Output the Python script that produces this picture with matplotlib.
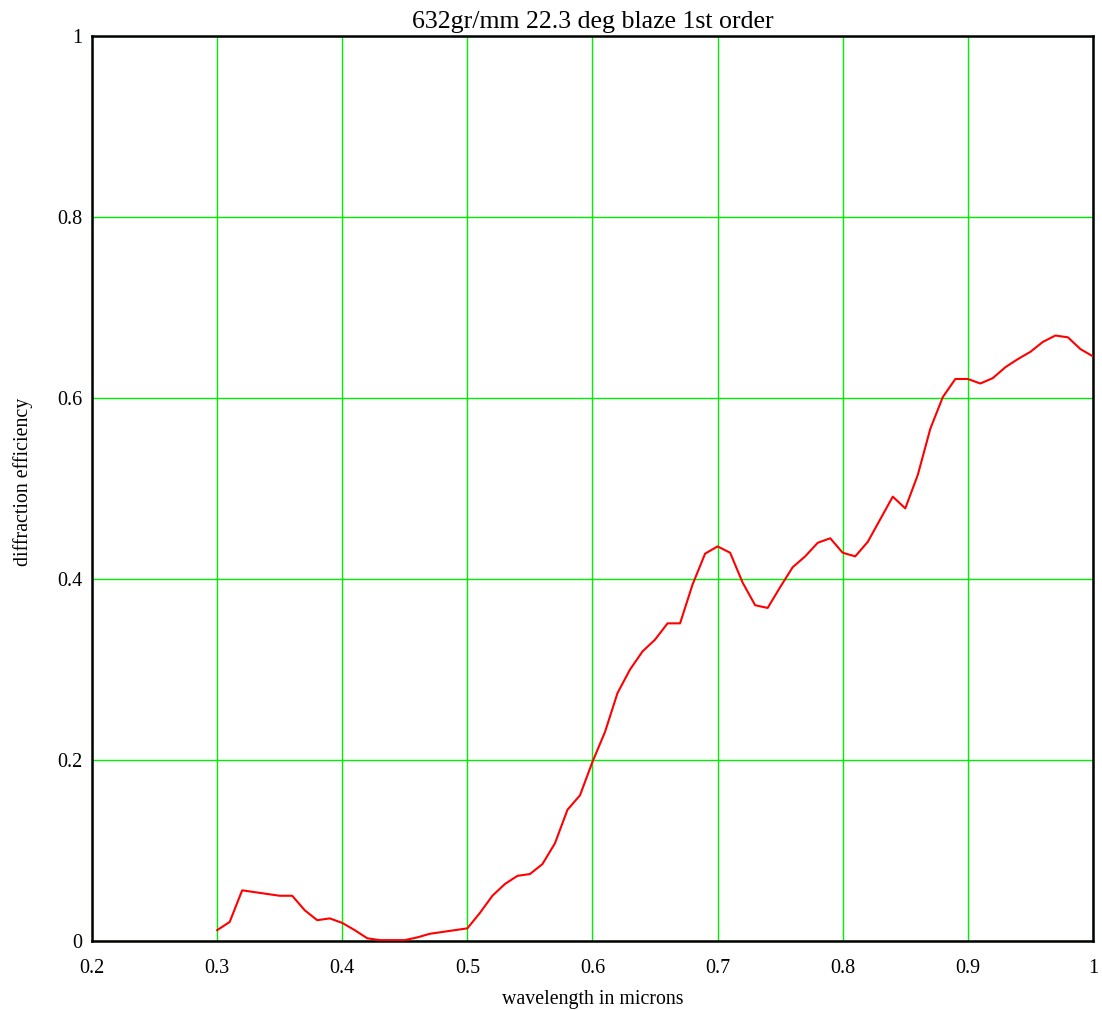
import matplotlib
matplotlib.use("Agg")
import matplotlib.pyplot as plt

# Measured first-order diffraction efficiency, 632 gr/mm grating
wavelength = [0.30, 0.31, 0.32, 0.33, 0.34, 0.35, 0.36, 0.37, 0.38, 0.39,
              0.40, 0.41, 0.42, 0.43, 0.44, 0.45, 0.46, 0.47, 0.48, 0.49,
              0.50, 0.51, 0.52, 0.53, 0.54, 0.55, 0.56, 0.57, 0.58, 0.59,
              0.60, 0.61, 0.62, 0.63, 0.64, 0.65, 0.66, 0.67, 0.68, 0.69,
              0.70, 0.71, 0.72, 0.73, 0.74, 0.75, 0.76, 0.77, 0.78, 0.79,
              0.80, 0.81, 0.82, 0.83, 0.84, 0.85, 0.86, 0.87, 0.88, 0.89,
              0.90, 0.91, 0.92, 0.93, 0.94, 0.95, 0.96, 0.97, 0.98, 0.99,
              1.00]
efficiency = [0.012, 0.021, 0.056, 0.054, 0.052, 0.050, 0.050, 0.034, 0.023, 0.025,
              0.020, 0.012, 0.003, 0.001, 0.001, 0.001, 0.004, 0.008, 0.010, 0.012,
              0.014, 0.031, 0.050, 0.063, 0.072, 0.074, 0.085, 0.108, 0.145, 0.161,
              0.198, 0.231, 0.274, 0.300, 0.320, 0.333, 0.351, 0.351, 0.394, 0.428,
              0.436, 0.429, 0.396, 0.371, 0.368, 0.391, 0.413, 0.425, 0.440, 0.445,
              0.429, 0.425, 0.441, 0.466, 0.491, 0.478, 0.515, 0.566, 0.601, 0.621,
              0.621, 0.616, 0.622, 0.634, 0.643, 0.651, 0.662, 0.669, 0.667, 0.654,
              0.646]

x_ticks = [0.2, 0.3, 0.4, 0.5, 0.6, 0.7, 0.8, 0.9, 1.0]
x_labels = ["0.2", "0.3", "0.4", "0.5", "0.6", "0.7", "0.8", "0.9", "1"]
y_ticks = [0.0, 0.2, 0.4, 0.6, 0.8, 1.0]
y_labels = ["0", "0.2", "0.4", "0.6", "0.8", "1"]

plt.rcParams["font.family"] = ["Liberation Serif", "DejaVu Serif"]

fig = plt.figure(figsize=(11.02, 10.10), dpi=100)
ax = fig.add_axes([0.0835, 0.0683, 0.9083, 0.8961])

ax.plot(wavelength, efficiency, color="#ff0000", linewidth=1.5, zorder=3)

ax.set_xlim(0.2, 1.0)
ax.set_ylim(0.0, 1.0)
ax.set_xticks(x_ticks)
ax.set_xticklabels(x_labels)
ax.set_yticks(y_ticks)
ax.set_yticklabels(y_labels)
ax.tick_params(length=0, labelsize=14.5)
ax.tick_params(axis="x", pad=13)
ax.tick_params(axis="y", pad=7)

ax.grid(True, color="#00ee00", linewidth=1.0, zorder=1)
ax.set_axisbelow(True)
for side in ax.spines.values():
    side.set_linewidth(1.8)
    side.set_color("black")

ax.set_title("632gr/mm 22.3 deg blaze 1st order", fontsize=18.6, pad=6)
ax.set_xlabel("wavelength in microns", fontsize=14.3, labelpad=8.5)
ax.set_ylabel("diffraction efficiency", fontsize=14.3)
ax.yaxis.set_label_coords(-0.059, 0.507)

fig.savefig("out.png", dpi=100)
